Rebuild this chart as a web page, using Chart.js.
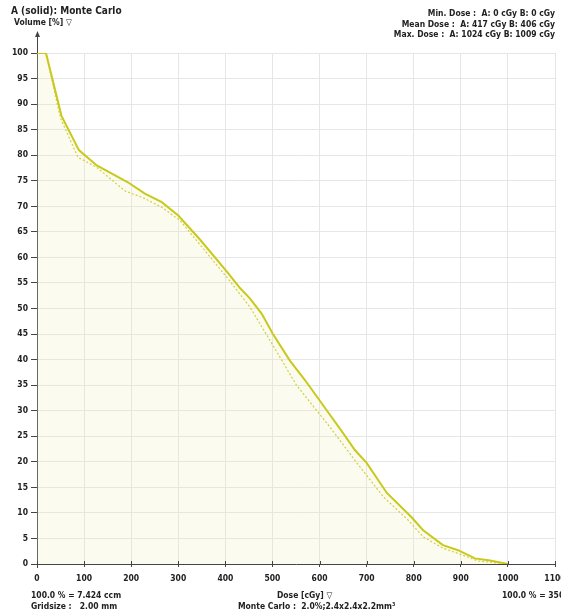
<!DOCTYPE html>
<html>
<head>
<meta charset="utf-8">
<script src="https://cdn.jsdelivr.net/npm/chart.js@4"></script>
<style>
    html, body { margin: 0; padding: 0; background: #fff; overflow: hidden; }
    #wrap { position: relative; width: 580px; height: 616px; }
    .lbl {
        position: absolute;
        font-family: 'Liberation Sans Narrow', 'Arial Narrow', 'DejaVu Sans Condensed', sans-serif;
        font-weight: bold;
        font-size: 8.5px;
        color: #222;
        white-space: nowrap;
        line-height: 10px;
    }
    .right { text-align: right; }
</style>
</head>
<body>
<div id="wrap">
    <canvas id="dvhChart"></canvas>
    <div class="lbl" style="left:11px; top:5px; font-size:10px; line-height:12px;">A (solid): Monte Carlo</div>
    <div class="lbl" style="left:14px; top:17px;">Volume [%] &#9661;</div>

    <div class="lbl right" style="right:25px; top:8px;">Min. Dose :&nbsp; A: 0 cGy B: 0 cGy</div>
    <div class="lbl right" style="right:25px; top:19px;">Mean Dose :&nbsp; A: 417 cGy B: 406 cGy</div>
    <div class="lbl right" style="right:25px; top:29px;">Max. Dose :&nbsp; A: 1024 cGy B: 1009 cGy</div>

    <div class="lbl" style="left:31px; top:590px;">100.0 % = 7.424 ccm</div>
    <div class="lbl" style="left:31px; top:601px;">Gridsize :&nbsp;&nbsp; 2.00 mm</div>
    <div class="lbl" style="left:277px; top:590px;">Dose [cGy] &#9661;</div>
    <div class="lbl" style="left:238px; top:601px;">Monte Carlo :&nbsp; 2.0%;2.4x2.4x2.2mm&sup3;</div>
    <div class="lbl" style="left:502px; top:590px;">100.0 % = 3500 cGy</div>
</div>
<script>
// DVH curves
const doseA = [0, 19, 52, 89, 127, 193, 229, 265, 300, 346, 405, 431, 452, 477, 501, 537, 569, 622, 650, 675, 700, 743, 795, 820, 862, 894, 930, 962, 1000];
const volA  = [100, 100, 87.7, 81, 78, 74.7, 72.5, 70.8, 68.2, 63.5, 57, 54, 52, 49, 45, 39.8, 36, 29.2, 25.6, 22.3, 19.8, 13.9, 9.2, 6.6, 3.7, 2.7, 1.1, 0.7, 0];

const doseB = [0, 19, 50, 87, 127, 187, 225, 265, 304, 405, 452, 501, 551, 622, 675, 735, 788, 820, 862, 902, 936, 1000];
const volB  = [100, 100, 87.2, 79.6, 77.6, 73, 71.7, 69.8, 67.2, 55.9, 50.3, 42.8, 35, 26.8, 20.3, 13.2, 8.6, 5.3, 3.1, 1.8, 0.6, 0];

const xMin = 0, xMax = 1100, xStep = 100;
const yMin = 0, yMax = 100, yStep = 5;

const lineColor = '#c9c91c';
const tickFont = { family: "'Liberation Sans Narrow', 'Arial Narrow', 'DejaVu Sans Condensed', sans-serif", size: 8.5, weight: 'bold' };

function toPoints(xs, ys) {
    return xs.map((x, i) => ({ x: x, y: ys[i] }));
}

// extra axis decorations: y arrow, crossing x ticks
const axisExtras = {
    id: 'axisExtras',
    afterDraw(chart) {
        const ctx = chart.ctx;
        const a = chart.chartArea;
        const xs = chart.scales.x;
        ctx.save();
        ctx.strokeStyle = '#444';
        ctx.fillStyle = '#444';
        ctx.lineWidth = 1;
        // y axis extension + arrow
        ctx.beginPath();
        ctx.moveTo(a.left + 0.5, a.top);
        ctx.lineTo(a.left + 0.5, a.top - 20);
        ctx.moveTo(a.left + 0.5, a.bottom);
        ctx.lineTo(a.left + 0.5, a.bottom + 4);
        ctx.moveTo(a.left - 5, a.bottom + 0.5);
        ctx.lineTo(a.left, a.bottom + 0.5);
        ctx.stroke();
        ctx.beginPath();
        ctx.moveTo(a.left + 0.5, a.top - 22);
        ctx.lineTo(a.left - 2, a.top - 16);
        ctx.lineTo(a.left + 3, a.top - 16);
        ctx.closePath();
        ctx.fill();
        // x ticks crossing the axis
        ctx.beginPath();
        xs.ticks.forEach(t => {
            const px = Math.round(xs.getPixelForValue(t.value)) + 0.5;
            ctx.moveTo(px, a.bottom - 3);
            ctx.lineTo(px, a.bottom);
        });
        ctx.stroke();
        ctx.restore();
    }
};

const ctx = document.getElementById('dvhChart').getContext('2d');
new Chart(ctx, {
    type: 'line',
    data: {
        datasets: [{
            label: 'A (solid)',
            data: toPoints(doseA, volA),
            borderColor: lineColor,
            backgroundColor: 'rgba(238, 238, 180, 0.22)',
            borderWidth: 2,
            pointRadius: 0,
            tension: 0,
            fill: 'origin'
        }, {
            label: 'B',
            data: toPoints(doseB, volB),
            borderColor: lineColor,
            borderWidth: 1.2,
            borderDash: [2, 2],
            pointRadius: 0,
            tension: 0,
            fill: false
        }]
    },
    options: {
        responsive: true,
        maintainAspectRatio: false,
        animation: false,
        layout: { padding: { top: 53, right: 25, bottom: 0, left: 0 } },
        plugins: {
            legend: { display: false },
            tooltip: { enabled: false }
        },
        scales: {
            x: {
                type: 'linear',
                min: xMin,
                max: xMax,
                ticks: { stepSize: xStep, color: '#222', font: tickFont, padding: 7, maxRotation: 0,
                    callback: function(value) { return String(value); } },
                grid: { color: '#e6e6e6', tickLength: 3, tickColor: '#444' },
                border: { color: '#444' },
                afterFit(scale) { scale.height = 52; }
            },
            y: {
                type: 'linear',
                min: yMin,
                max: yMax,
                ticks: { stepSize: yStep, color: '#222', font: tickFont, padding: 3,
                    callback: function(value) { return String(value); } },
                grid: { color: '#e6e6e6', tickLength: 6, tickColor: '#444' },
                border: { color: '#444' },
                afterFit(scale) { scale.width = 37; }
            }
        }
    },
    plugins: [axisExtras]
});
</script>
</body>
</html>
